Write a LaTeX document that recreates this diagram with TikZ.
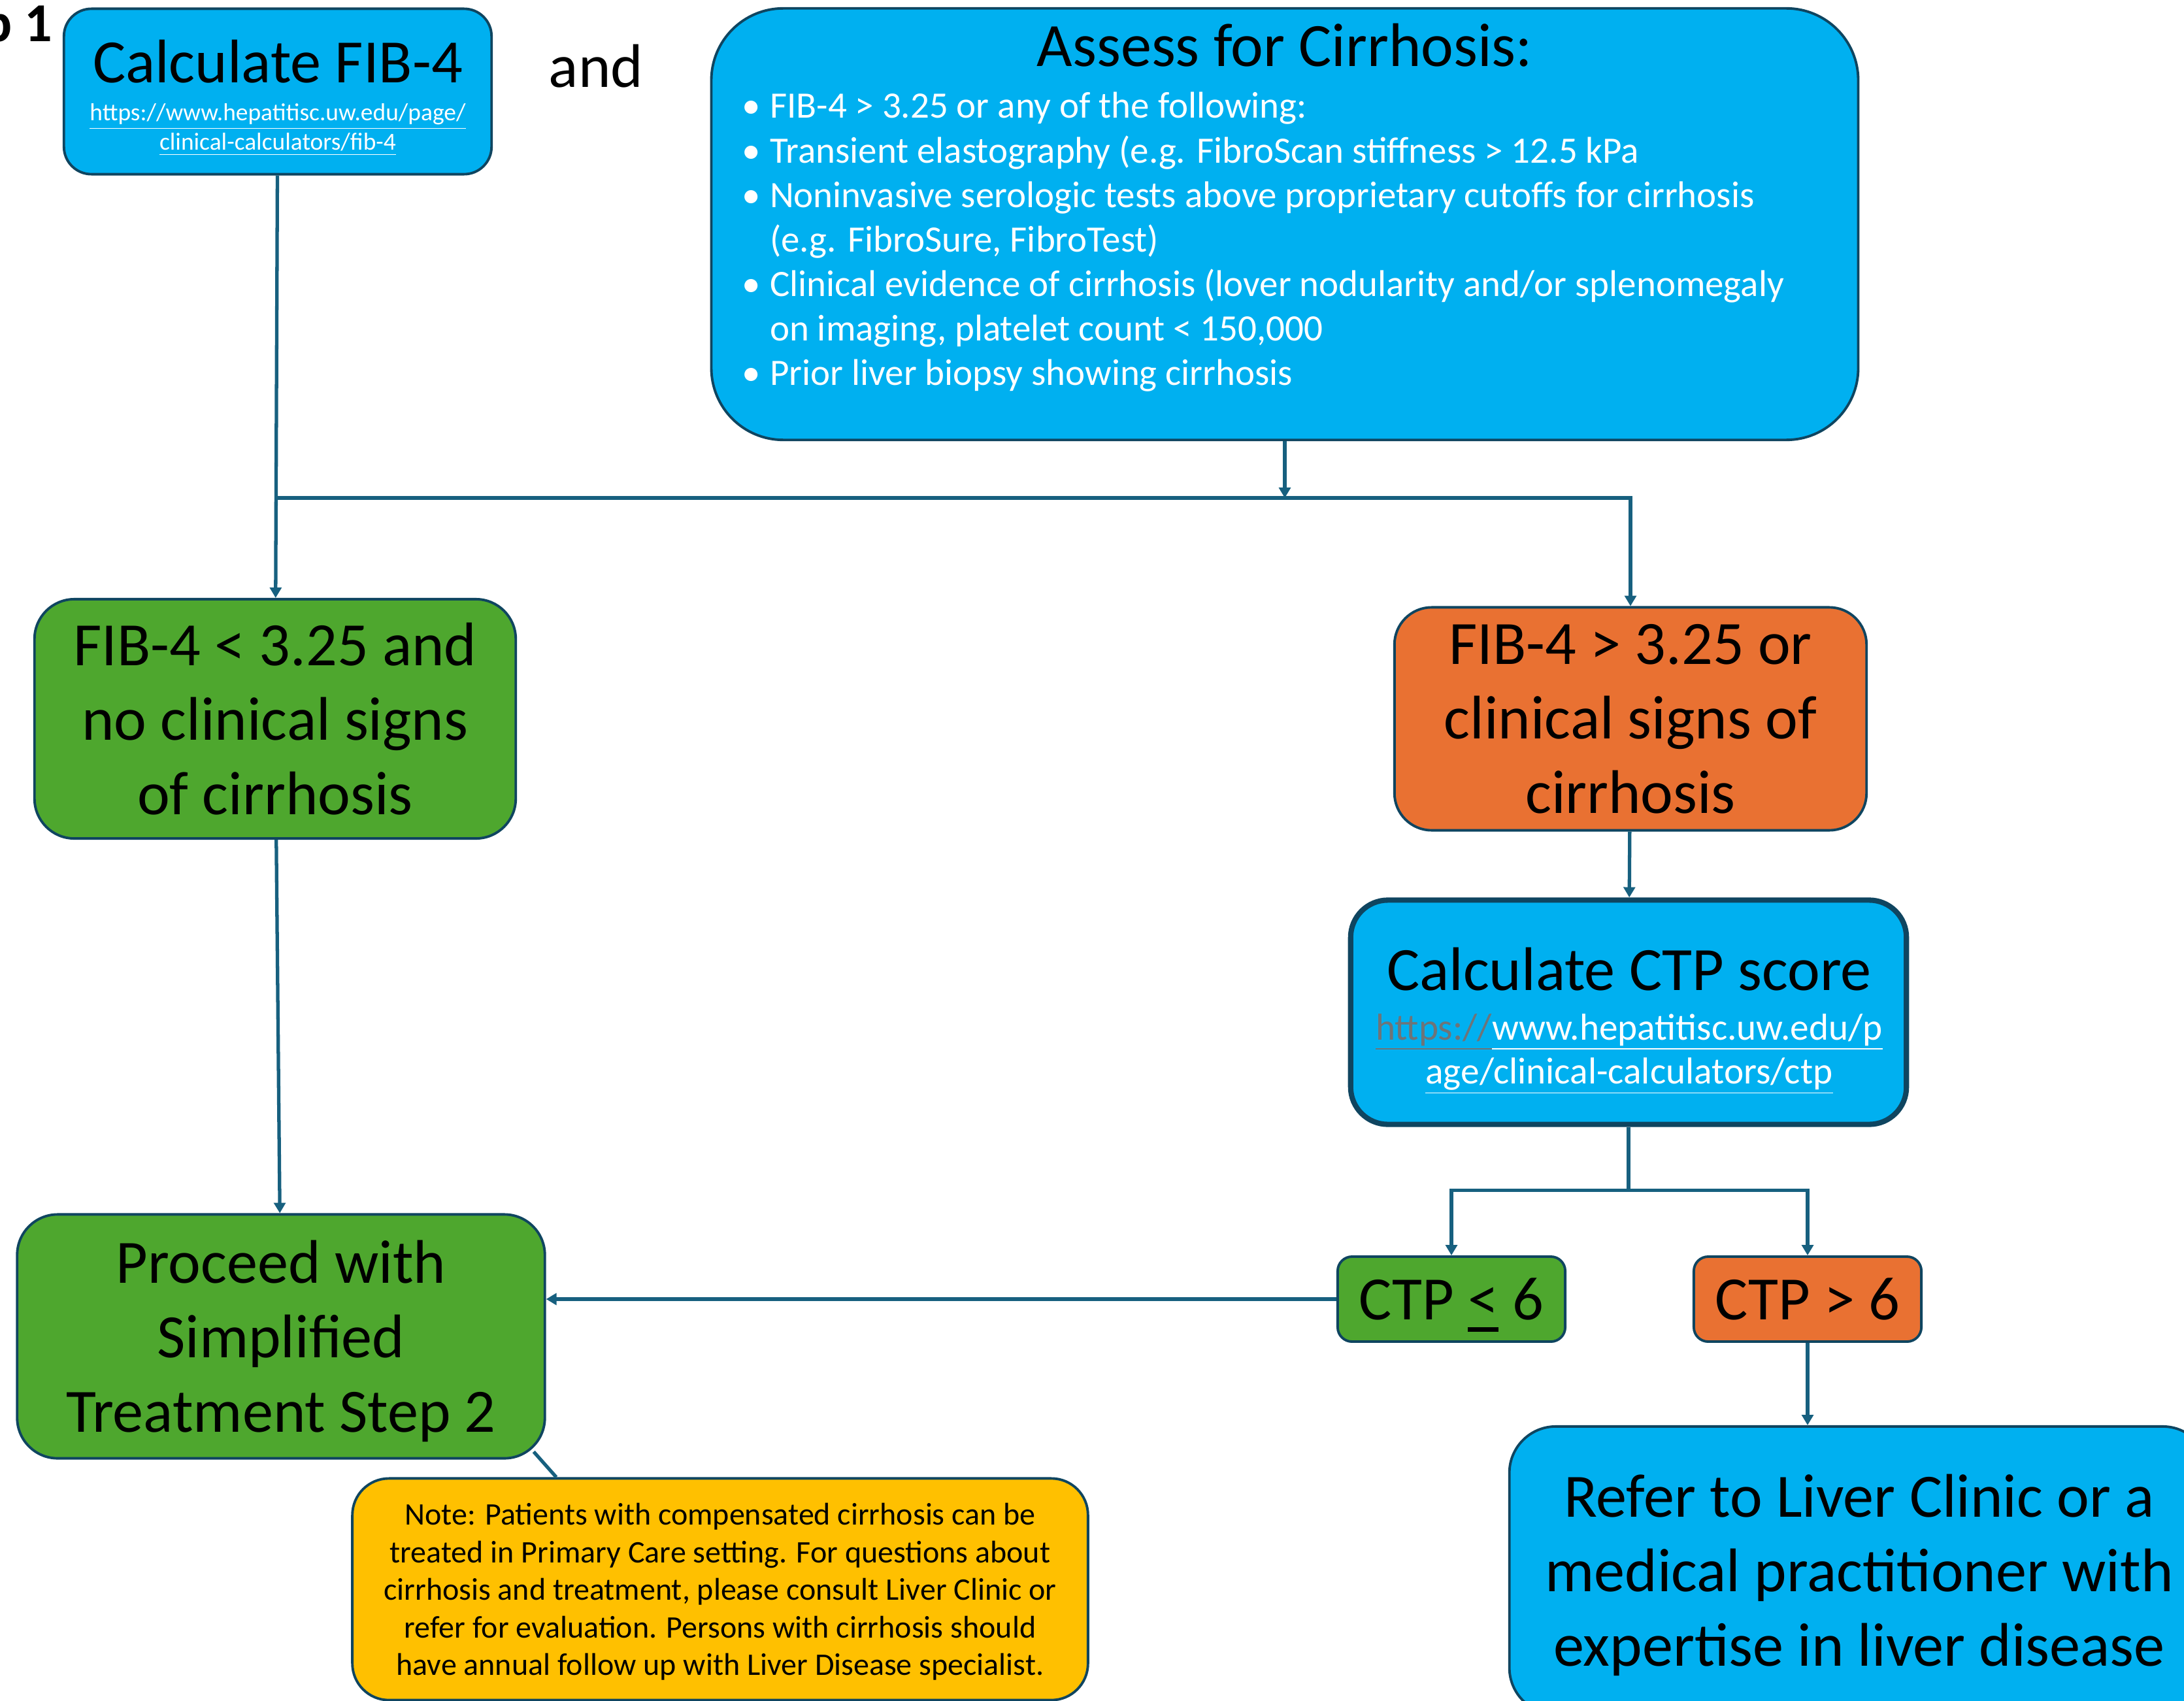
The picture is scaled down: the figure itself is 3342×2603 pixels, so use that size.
\documentclass[tikz,border=0pt]{standalone}
\usepackage{fontspec}
\setmainfont{Carlito}
\usepackage{tikz}
\usetikzlibrary{positioning}
\usepackage{xcolor}
\usetikzlibrary{shapes,arrows.meta}
\usetikzlibrary{calc}
\definecolor{boxblue}{HTML}{00B0F0}
\definecolor{boxgreen}{HTML}{4EA72E}
\definecolor{boxorange}{HTML}{E97132}
\definecolor{boxyellow}{HTML}{FFC000}
\definecolor{edge}{HTML}{0F4560}
\definecolor{link}{HTML}{17607F}
\definecolor{urlgray}{HTML}{6E7478}
\def\bigf{\fontsize{26.8}{32.4}\selectfont}
\def\urlf{\fontsize{10.65}{12.8}\selectfont}
\def\listf{\fontsize{16.2}{19.35}\selectfont}
\def\ctpf{\fontsize{16.3}{18.8}\selectfont}
\def\notef{\fontsize{13.65}{16.35}\selectfont}
\newcommand\ctpless{\leavevmode\rlap{\smash{\rule[-5.1pt]{0.5em}{2pt}}}<}
\tikzset{
box/.style={draw=edge, line width=1.1pt, align=center, inner sep=0pt, text depth=0pt},
flow/.style={draw=link, line width=1.5pt, -{Triangle[length=4.5pt,width=5pt]}},
joinline/.style={draw=link, line width=1.5pt}
}

\begin{document}
\begin{tikzpicture}[x=0.01cm,y=-0.01cm]
\useasboundingbox[fill=white] (0,0) rectangle (3342,2603);
\node[anchor=base east, inner sep=0pt, font=\fontsize{23.9}{28}\selectfont\bfseries] (steplabel) at (81,64) {p 1};
\node[anchor=base, font=\bigf] (andlabel) at (912,134) {and};

\node[box, fill=boxblue, rounded corners=0.42cm, minimum width=6.54cm, minimum height=2.53cm] (fib4) at (425,140) {};
\node[anchor=base, font=\bigf] (fib4title) at (425,127) {Calculate FIB-4};
\node[anchor=base, font=\urlf, text=white] (fib4urla) at (425,185) {\underline{https://www.hepatitisc.uw.edu/page/}};
\node[anchor=base, font=\urlf, text=white] (fib4urlb) at (425,230) {\underline{clinical-calculators/fib-4}};

\node[box, fill=boxblue, rounded corners=1.1cm, minimum width=17.54cm, minimum height=6.60cm] (assess) at (1966,343) {};
\node[anchor=base, font=\bigf] (assesstitle) at (1966,102) {Assess for Cirrhosis:};
\node[anchor=base west, font=\listf, text=white, inner sep=0pt] (assesslist) at (1135,181) {\begin{tabular}[t]{@{}l@{\hspace{4pt}}l@{}}
\textbullet & FIB-4 > 3.25 or any of the following:\\
\textbullet & Transient elastography (e.g. FibroScan stiffness > 12.5 kPa\\
\textbullet & Noninvasive serologic tests above proprietary cutoffs for cirrhosis\\
 & (e.g. FibroSure, FibroTest)\\
\textbullet & Clinical evidence of cirrhosis (lover nodularity and/or splenomegaly\\
 & on imaging, platelet count < 150,000\\
\textbullet & Prior liver biopsy showing cirrhosis
\end{tabular}};

\node[box, fill=boxgreen, rounded corners=0.61cm, minimum width=7.36cm, minimum height=3.66cm, font=\bigf] (nocirr) at (421,1100) {FIB-4 < 3.25 and\\no clinical signs\\of cirrhosis};
\node[box, fill=boxorange, rounded corners=0.57cm, minimum width=7.22cm, minimum height=3.41cm, font=\bigf] (cirr) at (2495,1100) {FIB-4 > 3.25 or\\clinical signs of\\cirrhosis};

\node[box, fill=boxblue, line width=2.3pt, rounded corners=0.57cm, minimum width=8.50cm, minimum height=3.43cm] (ctp) at (2492,1549) {};
\node[anchor=base, font=\bigf] (ctptitle) at (2493,1515) {Calculate CTP score};
\node[anchor=base, font=\ctpf, text=white] (ctpurla) at (2493,1591) {{\color{urlgray}\underline{https://}}\underline{www.hepatitisc.uw.edu/p}};
\node[anchor=base, font=\ctpf, text=white] (ctpurlb) at (2493,1658) {\underline{age/clinical-calculators/ctp}};

\node[box, fill=boxgreen, rounded corners=0.22cm, minimum width=3.48cm, minimum height=1.30cm, font=\bigf] (ctple) at (2221,1988) {CTP \ctpless{} 6};
\node[box, fill=boxorange, rounded corners=0.22cm, minimum width=3.48cm, minimum height=1.30cm, font=\bigf] (ctpgt) at (2766,1988) {CTP > 6};

\node[box, fill=boxgreen, rounded corners=0.62cm, minimum width=8.07cm, minimum height=3.73cm, font=\bigf] (proceed) at (430,2045) {Proceed with\\Simplified\\Treatment Step 2};
\node[box, fill=boxyellow, rounded corners=0.56cm, minimum width=11.25cm, minimum height=3.39cm, font=\notef] (note) at (1102,2432) {Note: Patients with compensated cirrhosis can be\\treated in Primary Care setting. For questions about\\cirrhosis and treatment, please consult Liver Clinic or\\refer for evaluation. Persons with cirrhosis should\\have annual follow up with Liver Disease specialist.};
\node[box, fill=boxblue, rounded corners=0.71cm, minimum width=10.70cm, minimum height=4.40cm, font=\bigf] (refer) at (2845,2403) {Refer to Liver Clinic or a\\medical practitioner with\\expertise in liver disease};

\coordinate (split) at (422,762);
\draw[flow] (fib4) -- (nocirr);
\draw[flow] (assess.south) -- (assess.south |- split);
\draw[flow] (split) -| (cirr.north);
\draw[flow] (nocirr) -- (proceed);
\draw[flow] (cirr) -- (ctp);
\draw[joinline] (ctp.south) -- ++(0,97) coordinate (ctpsplit);
\draw[flow] (ctpsplit) -| (ctple.north);
\draw[flow] (ctpsplit) -| (ctpgt.north);
\draw[flow] (ctple.west) -- (ctple.west -| proceed.east);
\draw[flow] (ctpgt.south) -- (ctpgt.south |- refer.north);
\draw[joinline] ($(proceed.south east)+(-19,-12)$) -- ($(note.north west)+(314,0)$);
\end{tikzpicture}
\end{document}
